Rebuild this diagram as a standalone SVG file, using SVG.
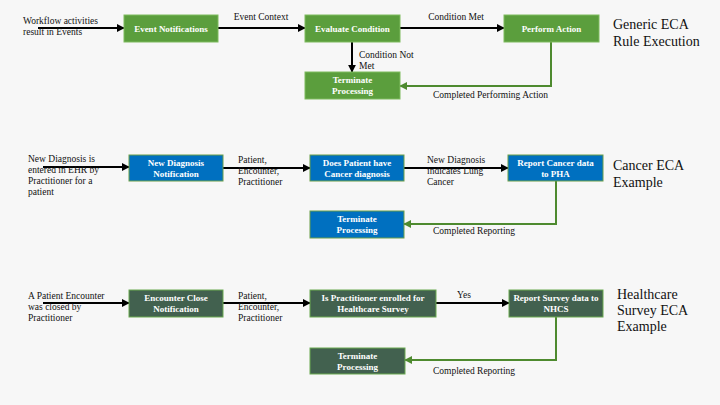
<svg xmlns="http://www.w3.org/2000/svg" width="720" height="405" viewBox="0 0 720 405">
<defs>
<style>
text{font-family:"Liberation Serif","DejaVu Serif",serif}
.bx text{fill:#fff;font-size:9px;font-weight:bold;text-anchor:middle}
.g rect{fill:#5b9e3d;stroke:#7fbb5f;stroke-width:1}
.b rect{fill:#0070c0;stroke:#6a9e48;stroke-width:1}
.d rect{fill:#42614f;stroke:#6aaa50;stroke-width:1}
.lbl{font-size:9.5px;fill:#111}
.ttl{font-size:14px;fill:#111}
.k{stroke:#000;stroke-width:2;fill:none;marker-end:url(#ak)}
.gr{stroke:#4e8a2f;stroke-width:2;fill:none;marker-end:url(#ag)}
</style>
<marker id="ak" viewBox="0 0 10 10" refX="9" refY="5" markerWidth="4" markerHeight="4" orient="auto"><path d="M0,0L10,5L0,10z" fill="#000"/></marker>
<marker id="ag" viewBox="0 0 10 10" refX="9" refY="5" markerWidth="4" markerHeight="4" orient="auto"><path d="M0,0L10,5L0,10z" fill="#4e8a2f"/></marker>
</defs>
<rect width="720" height="405" fill="#f7f7f7"/>

<g id="connectors">
<path class="k" d="M38,28H124"/>
<path class="k" d="M218,28H305"/>
<path class="k" d="M400,28H504"/>
<path class="k" d="M352,42V72"/>
<path class="gr" d="M551,42V86H400"/>
<path class="k" d="M43,167H129"/>
<path class="k" d="M223,168H310"/>
<path class="k" d="M404,168H508"/>
<path class="gr" d="M556,181V224H404"/>
<path class="k" d="M43,303H129"/>
<path class="k" d="M223,303H310"/>
<path class="k" d="M436,303H509"/>
<path class="gr" d="M556,317V360H405"/>
</g>

<g id="labels">
<text class="lbl" x="23" y="24">Workflow activities</text>
<text class="lbl" x="23" y="35">result in Events</text>
<text class="lbl" x="261" y="20" text-anchor="middle">Event Context</text>
<text class="lbl" x="456" y="20" text-anchor="middle">Condition Met</text>
<text class="lbl" x="359" y="58">Condition Not</text>
<text class="lbl" x="359" y="69">Met</text>
<text class="lbl" x="433" y="98">Completed Performing Action</text>
<text class="ttl" x="613" y="29">Generic ECA</text>
<text class="ttl" x="613" y="46">Rule Execution</text>

<text class="lbl" x="28" y="162">New Diagnosis is</text>
<text class="lbl" x="28" y="173">entered in EHR by</text>
<text class="lbl" x="28" y="184">Practitioner for a</text>
<text class="lbl" x="28" y="195">patient</text>
<text class="lbl" x="238" y="163">Patient,</text>
<text class="lbl" x="238" y="174">Encounter,</text>
<text class="lbl" x="238" y="185">Practitioner</text>
<text class="lbl" x="427" y="163">New Diagnosis</text>
<text class="lbl" x="427" y="174">indicates Lung</text>
<text class="lbl" x="427" y="185">Cancer</text>
<text class="lbl" x="433" y="234">Completed Reporting</text>
<text class="ttl" x="613" y="170">Cancer ECA</text>
<text class="ttl" x="613" y="187">Example</text>

<text class="lbl" x="28" y="299">A Patient Encounter</text>
<text class="lbl" x="28" y="310">was closed by</text>
<text class="lbl" x="28" y="321">Practitioner</text>
<text class="lbl" x="238" y="299">Patient,</text>
<text class="lbl" x="238" y="310">Encounter,</text>
<text class="lbl" x="238" y="321">Practitioner</text>
<text class="lbl" x="464" y="298" text-anchor="middle">Yes</text>
<text class="lbl" x="433" y="374">Completed Reporting</text>
<text class="ttl" x="617" y="299">Healthcare</text>
<text class="ttl" x="617" y="315">Survey ECA</text>
<text class="ttl" x="617" y="331">Example</text>
</g>

<g id="n1" class="bx g"><rect x="124" y="15" width="94" height="27"/><text x="171" y="31.5">Event Notifications</text></g>
<g id="n2" class="bx g"><rect x="305" y="15" width="95" height="27"/><text x="352.5" y="31.5">Evaluate Condition</text></g>
<g id="n3" class="bx g"><rect x="504" y="15" width="95" height="27"/><text x="551.5" y="31.5">Perform Action</text></g>
<g id="n4" class="bx g"><rect x="305" y="72" width="95" height="27"/><text x="352.5" y="83">Terminate</text><text x="352.5" y="94">Processing</text></g>

<g id="n5" class="bx b"><rect x="129" y="155" width="94" height="26"/><text x="176" y="165.5">New Diagnosis</text><text x="176" y="176.5">Notification</text></g>
<g id="n6" class="bx b"><rect x="310" y="155" width="94" height="26"/><text x="357" y="165.5">Does Patient have</text><text x="357" y="176.5">Cancer diagnosis</text></g>
<g id="n7" class="bx b"><rect x="508" y="155" width="95" height="26"/><text x="555.5" y="165.5">Report Cancer data</text><text x="555.5" y="176.5">to PHA</text></g>
<g id="n8" class="bx b"><rect x="310" y="211" width="94" height="27"/><text x="357" y="222">Terminate</text><text x="357" y="233">Processing</text></g>

<g id="n9" class="bx d"><rect x="129" y="290" width="94" height="27"/><text x="176" y="301">Encounter Close</text><text x="176" y="312">Notification</text></g>
<g id="n10" class="bx d"><rect x="310" y="290" width="126" height="27"/><text x="373" y="301">Is Practitioner enrolled for</text><text x="373" y="312">Healthcare Survey</text></g>
<g id="n11" class="bx d"><rect x="509" y="290" width="94" height="27"/><text x="556" y="301">Report Survey data to</text><text x="556" y="312">NHCS</text></g>
<g id="n12" class="bx d"><rect x="310" y="348" width="95" height="26"/><text x="357.5" y="358.5">Terminate</text><text x="357.5" y="369.5">Processing</text></g>
</svg>
